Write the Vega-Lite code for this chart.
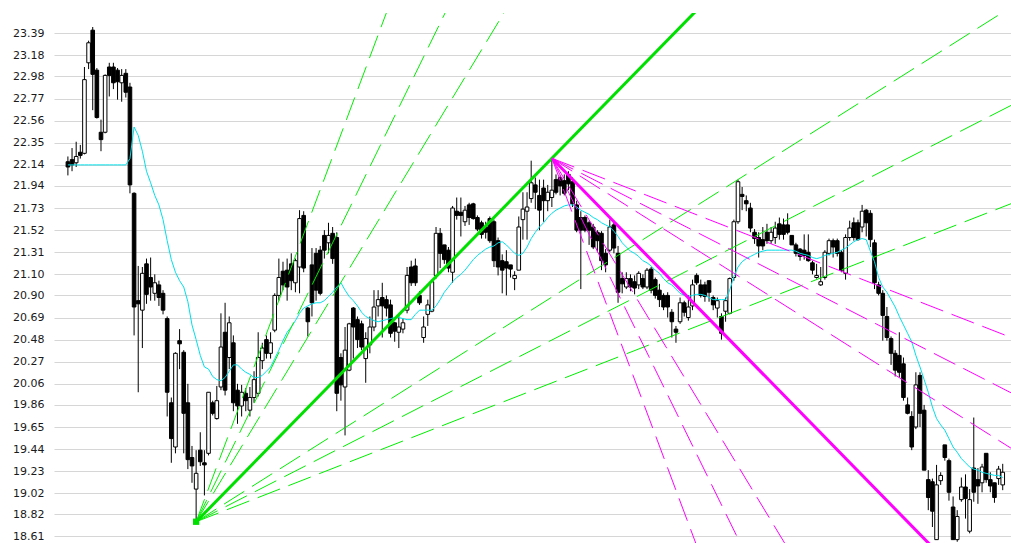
{
"$schema":"https://vega.github.io/schema/vega-lite/v6.json",
"width":957,"height":530,
"autosize":{"type":"none"},
"padding":{"left":54,"top":13,"right":0,"bottom":0},
"background":"white",
"config":{"view":{"stroke":null}},
"datasets":{
"candles":[
{"i":0,"o":22.17,"h":22.22,"l":22.04,"c":22.12,"m":22.14},
{"i":1,"o":22.19,"h":22.30,"l":22.08,"c":22.14,"m":22.14},
{"i":2,"o":22.16,"h":22.36,"l":22.12,"c":22.22,"m":22.14},
{"i":3,"o":22.26,"h":22.33,"l":22.20,"c":22.23,"m":22.14},
{"i":4,"o":22.25,"h":23.07,"l":22.24,"c":22.95,"m":22.14},
{"i":5,"o":23.11,"h":23.32,"l":23.05,"c":23.30,"m":22.14},
{"i":6,"o":23.42,"h":23.45,"l":22.66,"c":23.00,"m":22.14},
{"i":7,"o":23.04,"h":23.06,"l":22.58,"c":22.59,"m":22.14},
{"i":8,"o":22.45,"h":22.57,"l":22.27,"c":22.38,"m":22.14},
{"i":9,"o":22.45,"h":23.00,"l":22.44,"c":22.99,"m":22.14},
{"i":10,"o":23.07,"h":23.11,"l":22.79,"c":22.99,"m":22.14},
{"i":11,"o":23.07,"h":23.11,"l":22.86,"c":22.92,"m":22.14},
{"i":12,"o":23.04,"h":23.06,"l":22.76,"c":22.93,"m":22.14},
{"i":13,"o":22.92,"h":23.05,"l":22.74,"c":22.99,"m":22.14},
{"i":14,"o":23.01,"h":23.05,"l":22.78,"c":22.83,"m":22.14},
{"i":15,"o":22.88,"h":22.92,"l":21.87,"c":21.95,"m":22.20},
{"i":16,"o":21.87,"h":21.88,"l":20.52,"c":20.79,"m":22.50},
{"i":17,"o":20.85,"h":21.18,"l":19.98,"c":20.82,"m":22.42},
{"i":18,"o":20.76,"h":21.17,"l":20.40,"c":21.11,"m":22.27},
{"i":19,"o":21.20,"h":21.25,"l":20.82,"c":20.91,"m":22.08},
{"i":20,"o":21.07,"h":21.26,"l":20.85,"c":20.98,"m":21.97},
{"i":21,"o":20.92,"h":21.10,"l":20.85,"c":21.02,"m":21.85},
{"i":22,"o":21.00,"h":21.04,"l":20.80,"c":20.88,"m":21.76},
{"i":23,"o":20.92,"h":20.95,"l":20.72,"c":20.76,"m":21.62},
{"i":24,"o":20.68,"h":20.70,"l":19.75,"c":19.98,"m":21.42},
{"i":25,"o":19.88,"h":19.93,"l":19.31,"c":19.54,"m":21.24},
{"i":26,"o":19.46,"h":20.36,"l":19.40,"c":20.35,"m":21.12},
{"i":27,"o":20.47,"h":20.58,"l":20.20,"c":20.44,"m":21.04},
{"i":28,"o":20.36,"h":20.38,"l":19.40,"c":19.78,"m":20.98},
{"i":29,"o":19.88,"h":20.06,"l":19.25,"c":19.34,"m":20.84},
{"i":30,"o":19.36,"h":19.47,"l":19.12,"c":19.28,"m":20.62},
{"i":31,"o":19.06,"h":19.43,"l":18.75,"c":19.21,"m":20.48},
{"i":32,"o":19.43,"h":19.60,"l":19.28,"c":19.32,"m":20.33},
{"i":33,"o":19.31,"h":19.43,"l":19.00,"c":19.29,"m":20.22},
{"i":34,"o":19.40,"h":19.98,"l":19.38,"c":19.98,"m":20.20},
{"i":35,"o":19.88,"h":19.90,"l":19.76,"c":19.78,"m":20.13},
{"i":36,"o":19.73,"h":20.04,"l":19.72,"c":19.90,"m":20.10},
{"i":37,"o":20.03,"h":20.73,"l":20.00,"c":20.41,"m":20.09},
{"i":38,"o":20.55,"h":20.83,"l":19.95,"c":20.00,"m":20.12},
{"i":39,"o":20.31,"h":20.70,"l":20.20,"c":20.64,"m":20.18},
{"i":40,"o":20.45,"h":20.52,"l":19.80,"c":19.88,"m":20.24},
{"i":41,"o":20.00,"h":20.06,"l":19.68,"c":19.85,"m":20.24},
{"i":42,"o":19.85,"h":20.05,"l":19.75,"c":19.98,"m":20.20},
{"i":43,"o":19.97,"h":20.02,"l":19.80,"c":19.90,"m":20.17},
{"i":44,"o":19.81,"h":20.03,"l":19.75,"c":19.93,"m":20.15},
{"i":45,"o":19.93,"h":20.18,"l":19.88,"c":20.10,"m":20.12},
{"i":46,"o":19.97,"h":20.55,"l":19.94,"c":20.31,"m":20.12},
{"i":47,"o":20.28,"h":20.45,"l":20.20,"c":20.40,"m":20.14},
{"i":48,"o":20.48,"h":20.52,"l":20.30,"c":20.35,"m":20.18},
{"i":49,"o":20.35,"h":20.55,"l":20.30,"c":20.45,"m":20.22},
{"i":50,"o":20.57,"h":20.92,"l":20.55,"c":20.90,"m":20.30},
{"i":51,"o":20.90,"h":21.25,"l":20.85,"c":21.07,"m":20.38},
{"i":52,"o":21.13,"h":21.22,"l":20.95,"c":21.00,"m":20.47},
{"i":53,"o":21.14,"h":21.25,"l":20.85,"c":20.98,"m":20.55},
{"i":54,"o":21.20,"h":21.30,"l":20.95,"c":21.04,"m":20.60},
{"i":55,"o":21.02,"h":21.25,"l":20.93,"c":21.23,"m":20.66},
{"i":56,"o":21.17,"h":21.71,"l":20.92,"c":21.63,"m":20.73},
{"i":57,"o":21.66,"h":21.70,"l":21.12,"c":21.16,"m":20.78},
{"i":58,"o":20.78,"h":20.79,"l":20.51,"c":20.65,"m":20.80},
{"i":59,"o":21.19,"h":21.35,"l":20.70,"c":20.83,"m":20.82},
{"i":60,"o":21.30,"h":21.35,"l":20.85,"c":20.95,"m":20.83},
{"i":61,"o":21.33,"h":21.37,"l":20.90,"c":20.92,"m":20.83},
{"i":62,"o":21.47,"h":21.52,"l":21.25,"c":21.33,"m":20.85},
{"i":63,"o":21.40,"h":21.59,"l":21.30,"c":21.47,"m":20.89},
{"i":64,"o":21.49,"h":21.55,"l":21.20,"c":21.25,"m":20.93},
{"i":65,"o":21.45,"h":21.50,"l":19.80,"c":19.97,"m":20.98},
{"i":66,"o":20.31,"h":20.35,"l":19.90,"c":20.05,"m":21.02},
{"i":67,"o":20.03,"h":20.60,"l":19.57,"c":20.38,"m":20.95},
{"i":68,"o":20.19,"h":20.64,"l":20.18,"c":20.63,"m":20.89},
{"i":69,"o":20.78,"h":20.79,"l":20.30,"c":20.60,"m":20.85},
{"i":70,"o":20.67,"h":20.70,"l":20.40,"c":20.48,"m":20.80},
{"i":71,"o":20.63,"h":20.66,"l":20.38,"c":20.41,"m":20.74},
{"i":72,"o":20.30,"h":20.55,"l":20.07,"c":20.49,"m":20.70},
{"i":73,"o":20.43,"h":20.70,"l":20.35,"c":20.60,"m":20.68},
{"i":74,"o":20.60,"h":20.95,"l":20.56,"c":20.79,"m":20.66},
{"i":75,"o":20.80,"h":20.95,"l":20.70,"c":20.86,"m":20.65},
{"i":76,"o":20.88,"h":21.02,"l":20.50,"c":20.80,"m":20.66},
{"i":77,"o":20.86,"h":20.90,"l":20.70,"c":20.78,"m":20.67},
{"i":78,"o":20.81,"h":20.86,"l":20.50,"c":20.54,"m":20.68},
{"i":79,"o":20.64,"h":20.65,"l":20.46,"c":20.56,"m":20.69},
{"i":80,"o":20.55,"h":20.72,"l":20.40,"c":20.60,"m":20.69},
{"i":81,"o":20.58,"h":20.68,"l":20.54,"c":20.64,"m":20.68},
{"i":82,"o":20.76,"h":21.17,"l":20.73,"c":21.09,"m":20.67},
{"i":83,"o":21.17,"h":21.23,"l":20.99,"c":21.02,"m":20.67},
{"i":84,"o":21.18,"h":21.25,"l":20.99,"c":21.02,"m":20.72},
{"i":85,"o":20.90,"h":20.94,"l":20.81,"c":20.83,"m":20.76},
{"i":86,"o":20.50,"h":20.70,"l":20.45,"c":20.60,"m":20.76},
{"i":87,"o":20.72,"h":20.86,"l":20.61,"c":20.81,"m":20.76},
{"i":88,"o":20.75,"h":21.05,"l":20.74,"c":21.03,"m":20.76},
{"i":89,"o":21.09,"h":21.55,"l":21.06,"c":21.49,"m":20.80},
{"i":90,"o":21.49,"h":21.54,"l":21.16,"c":21.30,"m":20.86},
{"i":91,"o":21.38,"h":21.38,"l":21.20,"c":21.24,"m":20.93},
{"i":92,"o":21.33,"h":21.36,"l":21.12,"c":21.16,"m":20.98},
{"i":93,"o":21.12,"h":21.75,"l":21.02,"c":21.73,"m":21.03},
{"i":94,"o":21.70,"h":21.83,"l":21.62,"c":21.66,"m":21.07},
{"i":95,"o":21.69,"h":21.83,"l":21.46,"c":21.66,"m":21.10},
{"i":96,"o":21.60,"h":21.75,"l":21.56,"c":21.71,"m":21.14},
{"i":97,"o":21.76,"h":21.78,"l":21.57,"c":21.64,"m":21.19},
{"i":98,"o":21.77,"h":21.78,"l":21.62,"c":21.63,"m":21.24},
{"i":99,"o":21.64,"h":21.66,"l":21.51,"c":21.53,"m":21.28},
{"i":100,"o":21.59,"h":21.61,"l":21.44,"c":21.48,"m":21.31},
{"i":101,"o":21.55,"h":21.60,"l":21.44,"c":21.50,"m":21.34},
{"i":102,"o":21.63,"h":21.65,"l":21.40,"c":21.42,"m":21.36},
{"i":103,"o":21.60,"h":21.62,"l":21.17,"c":21.23,"m":21.37},
{"i":104,"o":21.42,"h":21.45,"l":21.09,"c":21.17,"m":21.40},
{"i":105,"o":21.23,"h":21.29,"l":20.92,"c":21.14,"m":21.41},
{"i":106,"o":21.22,"h":21.33,"l":20.90,"c":21.16,"m":21.38},
{"i":107,"o":21.19,"h":21.19,"l":21.07,"c":21.15,"m":21.34},
{"i":108,"o":21.06,"h":21.13,"l":20.95,"c":21.09,"m":21.30},
{"i":109,"o":21.14,"h":21.65,"l":21.14,"c":21.55,"m":21.28},
{"i":110,"o":21.62,"h":21.88,"l":21.43,"c":21.72,"m":21.30},
{"i":111,"o":21.70,"h":21.88,"l":21.43,"c":21.74,"m":21.36},
{"i":112,"o":21.82,"h":22.18,"l":21.78,"c":21.97,"m":21.44},
{"i":113,"o":21.95,"h":22.02,"l":21.72,"c":21.88,"m":21.50},
{"i":114,"o":21.85,"h":22.00,"l":21.52,"c":21.71,"m":21.55},
{"i":115,"o":21.92,"h":22.00,"l":21.60,"c":21.80,"m":21.59},
{"i":116,"o":21.80,"h":21.95,"l":21.70,"c":21.88,"m":21.64},
{"i":117,"o":21.83,"h":22.203,"l":21.74,"c":21.90,"m":21.68},
{"i":118,"o":22.00,"h":22.05,"l":21.86,"c":21.88,"m":21.71},
{"i":119,"o":22.02,"h":22.04,"l":21.85,"c":21.94,"m":21.73},
{"i":120,"o":21.99,"h":22.05,"l":21.85,"c":21.87,"m":21.75},
{"i":121,"o":22.05,"h":22.08,"l":21.90,"c":21.96,"m":21.76},
{"i":122,"o":21.98,"h":22.02,"l":21.74,"c":21.77,"m":21.76},
{"i":123,"o":21.76,"h":21.80,"l":21.50,"c":21.52,"m":21.74},
{"i":124,"o":21.64,"h":21.70,"l":20.96,"c":21.52,"m":21.71},
{"i":125,"o":21.64,"h":21.66,"l":21.50,"c":21.52,"m":21.69},
{"i":126,"o":21.59,"h":21.61,"l":21.38,"c":21.52,"m":21.67},
{"i":127,"o":21.55,"h":21.58,"l":21.34,"c":21.36,"m":21.64},
{"i":128,"o":21.50,"h":21.52,"l":21.31,"c":21.42,"m":21.62},
{"i":129,"o":21.49,"h":21.51,"l":21.14,"c":21.23,"m":21.59},
{"i":130,"o":21.30,"h":21.34,"l":21.12,"c":21.19,"m":21.57},
{"i":131,"o":21.33,"h":21.62,"l":21.31,"c":21.55,"m":21.55},
{"i":132,"o":21.57,"h":21.60,"l":21.30,"c":21.35,"m":21.51},
{"i":133,"o":21.30,"h":21.37,"l":20.83,"c":20.93,"m":21.46},
{"i":134,"o":21.06,"h":21.12,"l":20.92,"c":21.01,"m":21.40},
{"i":135,"o":20.98,"h":21.12,"l":20.96,"c":21.06,"m":21.36},
{"i":136,"o":21.06,"h":21.10,"l":20.94,"c":20.98,"m":21.32},
{"i":137,"o":21.03,"h":21.09,"l":20.91,"c":20.97,"m":21.30},
{"i":138,"o":21.00,"h":21.13,"l":20.96,"c":21.11,"m":21.27},
{"i":139,"o":21.06,"h":21.10,"l":20.96,"c":20.98,"m":21.23},
{"i":140,"o":20.98,"h":21.16,"l":20.96,"c":21.14,"m":21.21},
{"i":141,"o":21.15,"h":21.17,"l":20.92,"c":20.95,"m":21.18},
{"i":142,"o":21.05,"h":21.07,"l":20.87,"c":20.90,"m":21.14},
{"i":143,"o":20.95,"h":21.01,"l":20.79,"c":20.86,"m":21.11},
{"i":144,"o":20.90,"h":20.92,"l":20.76,"c":20.79,"m":21.06},
{"i":145,"o":20.90,"h":20.93,"l":20.69,"c":20.79,"m":21.02},
{"i":146,"o":20.74,"h":20.77,"l":20.50,"c":20.65,"m":21.00},
{"i":147,"o":20.58,"h":20.61,"l":20.45,"c":20.55,"m":20.96},
{"i":148,"o":20.65,"h":20.88,"l":20.63,"c":20.83,"m":20.92},
{"i":149,"o":20.83,"h":20.85,"l":20.70,"c":20.74,"m":20.90},
{"i":150,"o":20.69,"h":20.90,"l":20.66,"c":20.79,"m":20.89},
{"i":151,"o":20.80,"h":21.05,"l":20.76,"c":21.00,"m":20.90},
{"i":152,"o":21.09,"h":21.11,"l":21.00,"c":21.02,"m":20.91},
{"i":153,"o":21.00,"h":21.05,"l":20.88,"c":20.90,"m":20.91},
{"i":154,"o":21.00,"h":21.03,"l":20.84,"c":20.89,"m":20.90},
{"i":155,"o":21.04,"h":21.04,"l":20.84,"c":20.93,"m":20.88},
{"i":156,"o":20.88,"h":20.90,"l":20.76,"c":20.81,"m":20.86},
{"i":157,"o":20.78,"h":20.88,"l":20.69,"c":20.85,"m":20.86},
{"i":158,"o":20.70,"h":20.73,"l":20.48,"c":20.54,"m":20.86},
{"i":159,"o":20.75,"h":20.88,"l":20.65,"c":20.85,"m":20.86},
{"i":160,"o":20.73,"h":21.07,"l":20.72,"c":21.06,"m":20.95},
{"i":161,"o":21.07,"h":21.62,"l":21.04,"c":21.60,"m":21.08},
{"i":162,"o":21.60,"h":22.00,"l":21.58,"c":21.98,"m":21.17},
{"i":163,"o":21.86,"h":21.93,"l":21.71,"c":21.84,"m":21.22},
{"i":164,"o":21.80,"h":21.85,"l":21.70,"c":21.77,"m":21.25},
{"i":165,"o":21.73,"h":21.78,"l":21.50,"c":21.54,"m":21.27},
{"i":166,"o":21.50,"h":21.53,"l":21.39,"c":21.44,"m":21.29},
{"i":167,"o":21.45,"h":21.50,"l":21.26,"c":21.37,"m":21.31},
{"i":168,"o":21.43,"h":21.55,"l":21.33,"c":21.37,"m":21.32},
{"i":169,"o":21.50,"h":21.58,"l":21.39,"c":21.42,"m":21.33},
{"i":170,"o":21.42,"h":21.55,"l":21.39,"c":21.50,"m":21.33},
{"i":171,"o":21.45,"h":21.60,"l":21.39,"c":21.54,"m":21.33},
{"i":172,"o":21.58,"h":21.64,"l":21.43,"c":21.48,"m":21.33},
{"i":173,"o":21.57,"h":21.63,"l":21.43,"c":21.48,"m":21.33},
{"i":174,"o":21.57,"h":21.68,"l":21.48,"c":21.50,"m":21.33},
{"i":175,"o":21.47,"h":21.47,"l":21.38,"c":21.38,"m":21.33},
{"i":176,"o":21.38,"h":21.40,"l":21.27,"c":21.30,"m":21.32},
{"i":177,"o":21.34,"h":21.35,"l":21.23,"c":21.27,"m":21.30},
{"i":178,"o":21.33,"h":21.48,"l":21.24,"c":21.28,"m":21.29},
{"i":179,"o":21.31,"h":21.48,"l":21.22,"c":21.23,"m":21.28},
{"i":180,"o":21.21,"h":21.23,"l":21.10,"c":21.14,"m":21.26},
{"i":181,"o":21.07,"h":21.20,"l":21.06,"c":21.09,"m":21.25},
{"i":182,"o":21.00,"h":21.17,"l":20.99,"c":21.03,"m":21.26},
{"i":183,"o":21.07,"h":21.33,"l":21.05,"c":21.31,"m":21.28},
{"i":184,"o":21.30,"h":21.44,"l":21.28,"c":21.42,"m":21.29},
{"i":185,"o":21.42,"h":21.44,"l":21.26,"c":21.36,"m":21.30},
{"i":186,"o":21.42,"h":21.44,"l":21.27,"c":21.30,"m":21.31},
{"i":187,"o":21.31,"h":21.33,"l":21.12,"c":21.14,"m":21.33},
{"i":188,"o":21.11,"h":21.48,"l":21.05,"c":21.45,"m":21.35},
{"i":189,"o":21.45,"h":21.61,"l":21.42,"c":21.54,"m":21.38},
{"i":190,"o":21.59,"h":21.64,"l":21.42,"c":21.45,"m":21.41},
{"i":191,"o":21.59,"h":21.62,"l":21.42,"c":21.43,"m":21.43},
{"i":192,"o":21.55,"h":21.76,"l":21.50,"c":21.70,"m":21.44},
{"i":193,"o":21.71,"h":21.72,"l":21.46,"c":21.59,"m":21.43},
{"i":194,"o":21.68,"h":21.71,"l":21.36,"c":21.43,"m":21.32},
{"i":195,"o":21.40,"h":21.43,"l":20.96,"c":21.02,"m":21.22},
{"i":196,"o":21.00,"h":21.03,"l":20.90,"c":20.92,"m":21.07},
{"i":197,"o":20.92,"h":20.95,"l":20.47,"c":20.71,"m":20.98},
{"i":198,"o":20.70,"h":20.79,"l":20.47,"c":20.50,"m":20.93},
{"i":199,"o":20.49,"h":20.51,"l":20.24,"c":20.35,"m":20.86},
{"i":200,"o":20.35,"h":20.38,"l":20.13,"c":20.19,"m":20.79},
{"i":201,"o":20.33,"h":20.55,"l":20.12,"c":20.17,"m":20.70},
{"i":202,"o":20.25,"h":20.31,"l":19.90,"c":19.93,"m":20.62},
{"i":203,"o":19.86,"h":19.93,"l":19.77,"c":19.78,"m":20.54},
{"i":204,"o":19.75,"h":19.80,"l":19.43,"c":19.46,"m":20.46},
{"i":205,"o":19.65,"h":20.17,"l":19.63,"c":20.05,"m":20.33},
{"i":206,"o":20.14,"h":20.17,"l":19.65,"c":19.78,"m":20.22},
{"i":207,"o":19.81,"h":19.86,"l":19.24,"c":19.24,"m":20.10},
{"i":208,"o":19.15,"h":19.24,"l":18.86,"c":18.98,"m":19.98},
{"i":209,"o":19.13,"h":19.16,"l":18.70,"c":18.85,"m":19.84},
{"i":210,"o":18.58,"h":19.29,"l":18.58,"c":19.10,"m":19.73},
{"i":211,"o":19.14,"h":19.22,"l":19.10,"c":19.19,"m":19.67},
{"i":212,"o":19.48,"h":19.48,"l":19.33,"c":19.36,"m":19.62},
{"i":213,"o":19.33,"h":19.35,"l":18.95,"c":19.03,"m":19.54},
{"i":214,"o":18.89,"h":18.99,"l":18.58,"c":18.58,"m":19.46},
{"i":215,"o":18.58,"h":18.86,"l":18.56,"c":18.80,"m":19.41},
{"i":216,"o":18.96,"h":19.17,"l":18.94,"c":19.08,"m":19.35},
{"i":217,"o":19.08,"h":19.20,"l":18.78,"c":18.97,"m":19.31},
{"i":218,"o":18.66,"h":19.06,"l":18.64,"c":18.96,"m":19.27},
{"i":219,"o":19.26,"h":19.74,"l":18.94,"c":19.03,"m":19.25},
{"i":220,"o":19.15,"h":19.26,"l":18.92,"c":19.09,"m":19.24},
{"i":221,"o":19.12,"h":19.30,"l":19.03,"c":19.27,"m":19.22},
{"i":222,"o":19.40,"h":19.40,"l":19.12,"c":19.15,"m":19.21},
{"i":223,"o":19.15,"h":19.22,"l":19.03,"c":19.09,"m":19.20},
{"i":224,"o":19.12,"h":19.12,"l":18.93,"c":18.98,"m":19.19},
{"i":225,"o":19.16,"h":19.28,"l":19.10,"c":19.25,"m":19.19},
{"i":226,"o":19.10,"h":19.30,"l":19.05,"c":19.22,"m":19.17}
],
"fans":[
{"k":"gd","f":"g1","i":31,"p":18.75},{"k":"gd","f":"g1","i":230,"p":21.802},
{"k":"gd","f":"g2","i":31,"p":18.75},{"k":"gd","f":"g2","i":230,"p":22.745},
{"k":"gd","f":"g3","i":31,"p":18.75},{"k":"gd","f":"g3","i":230,"p":23.688},
{"k":"gd","f":"g4","i":31,"p":18.75},{"k":"gd","f":"g4","i":230,"p":31.678},
{"k":"gd","f":"g5","i":31,"p":18.75},{"k":"gd","f":"g5","i":230,"p":34.730},
{"k":"gd","f":"g6","i":31,"p":18.75},{"k":"gd","f":"g6","i":230,"p":39.668},
{"k":"gs","f":"g0","i":31,"p":18.75},{"k":"gs","f":"g0","i":230,"p":26.740},
{"k":"md","f":"m1","i":117,"p":22.203},{"k":"md","f":"m1","i":230,"p":20.470},
{"k":"md","f":"m2","i":117,"p":22.203},{"k":"md","f":"m2","i":230,"p":19.935},
{"k":"md","f":"m3","i":117,"p":22.203},{"k":"md","f":"m3","i":230,"p":19.399},
{"k":"md","f":"m4","i":117,"p":22.203},{"k":"md","f":"m4","i":230,"p":14.862},
{"k":"md","f":"m5","i":117,"p":22.203},{"k":"md","f":"m5","i":230,"p":13.129},
{"k":"md","f":"m6","i":117,"p":22.203},{"k":"md","f":"m6","i":230,"p":10.325},
{"k":"ms","f":"m0","i":117,"p":22.203},{"k":"ms","f":"m0","i":230,"p":17.666}
],
"origin":[{"i":31,"p":18.75}]
},
"resolve":{"axis":{"y":"independent"}},
"layer":[
{"data":{"name":"candles"},
 "mark":{"type":"rule","color":"black","strokeWidth":1},
 "encoding":{
  "x":{"field":"i","type":"quantitative","scale":{"domain":[-2.153,226.79]},"axis":null},
  "y":{"field":"l","type":"quantitative","scale":{"domain":[18.548,23.583]},"title":null,
   "axis":{"values":[18.61,18.82,19.02,19.23,19.44,19.65,19.86,20.06,20.27,20.48,20.69,20.90,21.10,21.31,21.52,21.73,21.94,22.14,22.35,22.56,22.77,22.98,23.18,23.39],
    "format":".2f","grid":true,"gridColor":"#d6d6d6","gridWidth":1.2,"domain":false,"ticks":false,
    "labelPadding":10,"labelFont":"DejaVu Sans","labelFontSize":11,"labelColor":"#1a1a1a","title":null}},
  "y2":{"field":"h"}}},
{"data":{"name":"candles"},
 "mark":{"type":"bar","size":3.6,"stroke":"black","strokeWidth":1},
 "encoding":{
  "x":{"field":"i","type":"quantitative","scale":{"domain":[-2.153,226.79]},"axis":null},
  "y":{"field":"o","type":"quantitative","scale":{"domain":[18.548,23.583]},"axis":null,"title":null},
  "y2":{"field":"c"},
  "fill":{"condition":{"test":"datum.c < datum.o","value":"black"},"value":"white"}}},
{"data":{"name":"candles"},
 "mark":{"type":"line","color":"#00e0ea","strokeWidth":1},
 "encoding":{
  "x":{"field":"i","type":"quantitative","scale":{"domain":[-2.153,226.79]},"axis":null},
  "y":{"field":"m","type":"quantitative","scale":{"domain":[18.548,23.583]},"axis":null,"title":null}}},
{"data":{"name":"fans"},
 "transform":[{"filter":"datum.k == 'gd'"}],
 "mark":{"type":"line","color":"#00ee00","strokeWidth":1,"strokeDash":[24,9],"clip":true},
 "encoding":{
  "x":{"field":"i","type":"quantitative","scale":{"domain":[-2.153,226.79]},"axis":null},
  "y":{"field":"p","type":"quantitative","scale":{"domain":[18.548,23.583]},"axis":null,"title":null},
  "detail":{"field":"f"}}},
{"data":{"name":"fans"},
 "transform":[{"filter":"datum.k == 'md'"}],
 "mark":{"type":"line","color":"#ff00ff","strokeWidth":1,"strokeDash":[24,9],"clip":true},
 "encoding":{
  "x":{"field":"i","type":"quantitative","scale":{"domain":[-2.153,226.79]},"axis":null},
  "y":{"field":"p","type":"quantitative","scale":{"domain":[18.548,23.583]},"axis":null,"title":null},
  "detail":{"field":"f"}}},
{"data":{"name":"fans"},
 "transform":[{"filter":"datum.k == 'gs'"}],
 "mark":{"type":"line","color":"#00e000","strokeWidth":3,"clip":true},
 "encoding":{
  "x":{"field":"i","type":"quantitative","scale":{"domain":[-2.153,226.79]},"axis":null},
  "y":{"field":"p","type":"quantitative","scale":{"domain":[18.548,23.583]},"axis":null,"title":null},
  "detail":{"field":"f"}}},
{"data":{"name":"fans"},
 "transform":[{"filter":"datum.k == 'ms'"}],
 "mark":{"type":"line","color":"#ff00ff","strokeWidth":3,"clip":true},
 "encoding":{
  "x":{"field":"i","type":"quantitative","scale":{"domain":[-2.153,226.79]},"axis":null},
  "y":{"field":"p","type":"quantitative","scale":{"domain":[18.548,23.583]},"axis":null,"title":null},
  "detail":{"field":"f"}}},
{"data":{"name":"origin"},
 "mark":{"type":"square","color":"#00e000","size":40,"opacity":1,"filled":true},
 "encoding":{
  "x":{"field":"i","type":"quantitative","scale":{"domain":[-2.153,226.79]},"axis":null},
  "y":{"field":"p","type":"quantitative","scale":{"domain":[18.548,23.583]},"axis":null,"title":null}}}
]
}
